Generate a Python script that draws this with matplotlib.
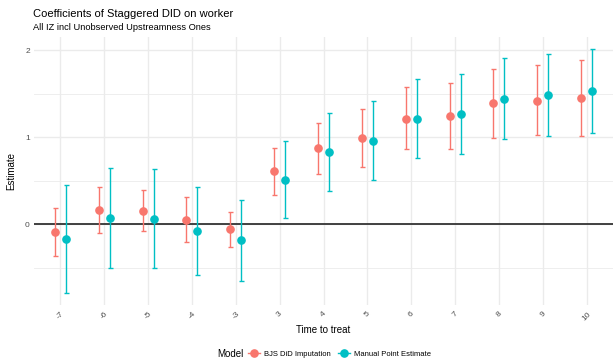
import matplotlib
matplotlib.use("Agg")
import matplotlib.pyplot as plt
from matplotlib.lines import Line2D
import numpy as np

plt.rcParams["font.family"] = ["Liberation Sans", "DejaVu Sans"]

periods = ["-7", "-6", "-5", "-4", "-3", "3", "4", "5", "6", "7", "8", "9", "10"]

bjs_est = [-0.09, 0.16, 0.15, 0.05, -0.06, 0.61, 0.87, 0.99, 1.21, 1.24, 1.39, 1.42, 1.45]
bjs_lo = [-0.37, -0.10, -0.08, -0.21, -0.26, 0.33, 0.58, 0.66, 0.86, 0.86, 0.99, 1.02, 1.01]
bjs_hi = [0.19, 0.43, 0.39, 0.31, 0.14, 0.88, 1.16, 1.32, 1.57, 1.62, 1.78, 1.83, 1.89]

man_est = [-0.17, 0.065, 0.06, -0.08, -0.18, 0.51, 0.83, 0.96, 1.21, 1.27, 1.44, 1.48, 1.53]
man_lo = [-0.79, -0.51, -0.51, -0.58, -0.65, 0.065, 0.385, 0.51, 0.76, 0.81, 0.98, 1.01, 1.05]
man_hi = [0.45, 0.65, 0.63, 0.43, 0.28, 0.96, 1.28, 1.42, 1.67, 1.73, 1.91, 1.95, 2.01]

series = [
    ("BJS DiD Imputation", bjs_est, bjs_lo, bjs_hi, "#F8766D", -0.125),
    ("Manual Point Estimate", man_est, man_lo, man_hi, "#00BFC4", 0.125),
]

fig = plt.figure(figsize=(6.16, 3.64), dpi=100)
ax = fig.add_axes([34 / 616, 1 - 305 / 364, 579 / 616, 268 / 364])

x = np.arange(len(periods))
handles = []
for name, est, lo, hi, color, shift in series:
    est = np.array(est)
    err = [est - np.array(lo), np.array(hi) - est]
    ax.errorbar(x + shift, est, yerr=err, fmt="o", color=color, ms=5.2,
                elinewidth=1.0, capsize=1.8, capthick=1.0, zorder=3)
    handles.append(Line2D([0], [0], color=color, marker="o", ms=5.2, lw=1.0, label=name))

ax.axhline(0, color="#333333", lw=1.3, zorder=2)

ax.set_xlim(-0.6, len(periods) - 0.4)
ax.set_ylim(-0.93, 2.15)
ax.set_xticks(x)
ax.set_xticklabels(periods, rotation=45, fontsize=6, color="#4D4D4D")
ax.set_yticks([0, 1, 2])
ax.set_yticks([-0.5, 0.5, 1.5], minor=True)
ax.set_yticklabels(["0", "1", "2"], fontsize=6, color="#4D4D4D")
ax.tick_params(axis="both", which="both", length=0, pad=3)
ax.tick_params(axis="x", pad=4)
ax.grid(True, which="major", color="#EBEBEB", lw=1.0, zorder=0)
ax.grid(True, which="minor", axis="y", color="#EBEBEB", lw=0.6, zorder=0)
ax.set_axisbelow(True)
for s in ax.spines.values():
    s.set_visible(False)

ax.set_xlabel("Time to treat", fontsize=7, labelpad=2)
ax.set_ylabel("Estimate", fontsize=7, labelpad=6)

fig.text(33 / 616, 1 - 14 / 364, "Coefficients of Staggered DID on worker", fontsize=8, va="center")
fig.text(33 / 616, 1 - 28 / 364, "All IZ incl Unobserved Upstreamness Ones", fontsize=6.7, va="center")

# legend at the bottom, title to the left of the keys
fig.text(217 / 616, 1 - 354 / 364, "Model", fontsize=7, va="center")
fig.legend(handles=handles, loc="center left", bbox_to_anchor=(248 / 616, 1 - 354 / 364),
           ncol=2, frameon=False, fontsize=5.5, borderaxespad=0, borderpad=0,
           handlelength=1.6, handletextpad=0.45, columnspacing=1.0)

fig.savefig("out.png", dpi=100)
